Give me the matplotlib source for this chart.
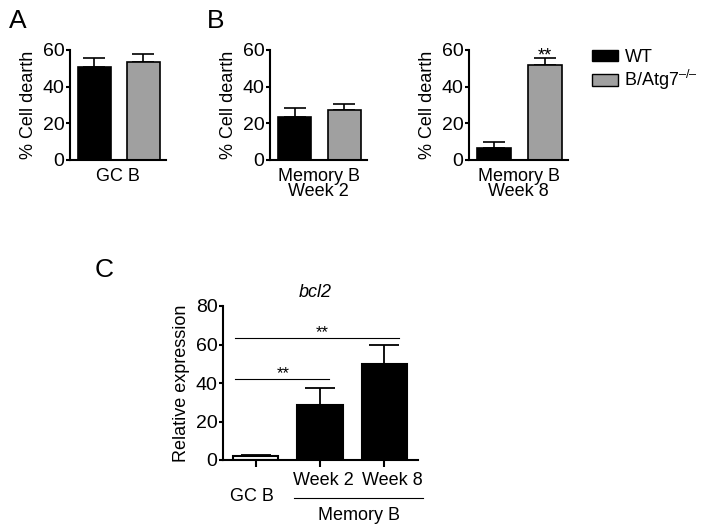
import numpy as np
import matplotlib
matplotlib.use('Agg')
import matplotlib.pyplot as plt
from matplotlib.patches import Patch

plt.rcParams['font.family'] = ['Liberation Sans', 'DejaVu Sans']
plt.rcParams['mathtext.fontset'] = 'custom'
plt.rcParams['mathtext.rm'] = 'Liberation Sans'
plt.rcParams['mathtext.it'] = 'Liberation Sans:italic'

# panel A / B : % cell death, WT vs B/Atg7-/-
groups = ['GC B', 'Memory B\nWeek 2', 'Memory B\nWeek 8']
wt_mean = [51, 23.5, 6.5]
wt_err = [4.7, 5, 3.3]
ko_mean = [53.5, 27.3, 51.8]
ko_err = [4.3, 3.2, 3.8]
ko_stars = ['', '', '**']

# panel C : bcl2 relative expression
c_labels = ['GC B', 'Week 2', 'Week 8']
c_mean = [2.3, 28.6, 49.9]
c_err = [0.5, 8.8, 9.8]

W, H = 701, 532
FS = 13
fig = plt.figure(figsize=(W / 100, H / 100), dpi=100)


def px(x0, y0, x1, y1):
    # pixel box -> figure fraction
    return [x0 / W, 1 - y1 / H, (x1 - x0) / W, (y1 - y0) / H]


def style(ax):
    for s in ['top', 'right']:
        ax.spines[s].set_visible(False)
    for s in ['left', 'bottom']:
        ax.spines[s].set_linewidth(1.5)
    ax.tick_params(axis='y', width=1.5, length=3, labelsize=14, pad=1)


boxes = [(70, 50, 166, 160), (270, 50, 367, 160), (469, 50, 568, 160)]
for i, b in enumerate(boxes):
    ax = fig.add_axes(px(*b))
    style(ax)
    x = np.array([0, 1])
    ax.bar(x, [wt_mean[i], ko_mean[i]], width=0.67,
           color=['black', '#a0a0a0'], edgecolor='black', linewidth=1.2,
           zorder=2)
    ax.errorbar(x, [wt_mean[i], ko_mean[i]],
                yerr=[[0, 0], [wt_err[i], ko_err[i]]],
                fmt='none', ecolor='black', elinewidth=1.2, capsize=8,
                capthick=1.2, zorder=1)
    if ko_stars[i]:
        ax.text(1, ko_mean[i] + ko_err[i] - 3.5, ko_stars[i], ha='center',
                va='bottom', fontsize=13)
    ax.set_ylim(0, 60)
    ax.set_yticks([0, 20, 40, 60])
    ax.set_xlim(-0.5, 1.46)
    ax.set_xticks([])
    ax.set_ylabel('% Cell dearth', fontsize=FS, labelpad=4)
    ax.text(0.5, -0.075, groups[i], transform=ax.transAxes, ha='center',
            va='top', fontsize=FS, linespacing=0.8)

h = [Patch(facecolor='black', edgecolor='black'),
     Patch(facecolor='#a0a0a0', edgecolor='black')]
fig.legend(h, ['WT', 'B/Atg7$^{\u2013/\u2013}$'], loc='upper left',
           bbox_to_anchor=(592 / W, 1 - 49 / H), frameon=False,
           fontsize=FS, handlelength=1.45, handleheight=0.62,
           handletextpad=0.35, labelspacing=0.12, borderpad=0,
           borderaxespad=0)

fig.text(17.5 / W, 1 - 21 / H, 'A', fontsize=19, ha='center', va='center')
fig.text(216 / W, 1 - 21 / H, 'B', fontsize=19, ha='center', va='center')
fig.text(104 / W, 1 - 270 / H, 'C', fontsize=19, ha='center', va='center')

# panel C
axc = fig.add_axes(px(223, 306, 418, 460))
style(axc)
xc = np.arange(len(c_mean))
axc.bar(xc, c_mean, width=0.7, color=['white', 'black', 'black'],
        edgecolor='black', linewidth=1.5, zorder=2)
axc.errorbar(xc, c_mean, yerr=[np.zeros(3), c_err], fmt='none',
             ecolor='black', elinewidth=1.3, capsize=11, capthick=1.3,
             zorder=1)
axc.set_ylim(0, 80)
axc.set_yticks([0, 20, 40, 60, 80])
axc.set_xlim(-0.504, 2.52)
axc.set_xticks(xc)
axc.set_xticklabels([])
axc.tick_params(axis='x', direction='out', length=5, width=1.5)
axc.set_ylabel('Relative expression', fontsize=FS, labelpad=4)
axc.text(0.92, 86.8, 'bcl2', fontsize=FS, style='italic', ha='center',
         va='center', clip_on=False)

# significance brackets
axc.plot([-0.318, 2.225], [63.4, 63.4], color='black', lw=0.8)
axc.plot([-0.318, 1.14], [42, 42], color='black', lw=0.8)
axc.text(1.03, 62.5, '**', ha='center', va='bottom', fontsize=12)
axc.text(0.426, 41.1, '**', ha='center', va='bottom', fontsize=12)

tr = axc.get_xaxis_transform()
axc.text(1.046, -0.13, c_labels[1], transform=tr, ha='center', va='center',
         fontsize=FS)
axc.text(2.116, -0.13, c_labels[2], transform=tr, ha='center', va='center',
         fontsize=FS)
axc.text(-0.05, -0.24, c_labels[0], transform=tr, ha='center', va='center',
         fontsize=FS)
axc.plot([0.597, 2.597], [-0.245, -0.245], transform=tr, color='black',
         lw=0.8, clip_on=False)
axc.text(1.6, -0.36, 'Memory B', transform=tr, ha='center', va='center',
         fontsize=FS)

fig.savefig('out.png', dpi=100)
